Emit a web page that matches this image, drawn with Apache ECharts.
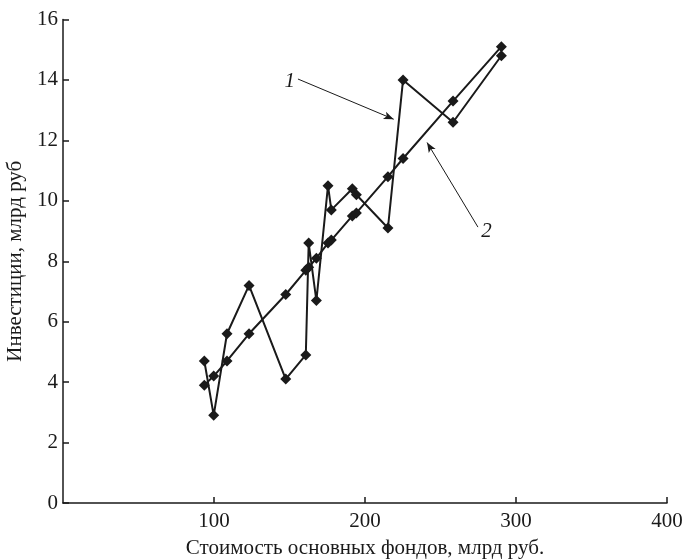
<!DOCTYPE html>
<html>
<head>
<meta charset="utf-8">
<script src="https://cdn.jsdelivr.net/npm/echarts@6/dist/echarts.min.js"></script>
<style>
  html, body { margin: 0; padding: 0; background: #fff; }
  #chart { width: 686px; height: 560px; }
</style>
</head>
<body>
<div id="chart"></div>
<script>
  // стоимость основных фондов (общая для обеих кривых)
  var funds = [93.6, 99.8, 108.6, 123.2, 147.5, 160.8, 162.7, 167.8, 175.5, 177.7, 191.6, 194.3, 215.2, 225.2, 258.3, 290.3];
  // 1 - фактические инвестиции
  var invest = [4.7, 2.9, 5.6, 7.2, 4.1, 4.9, 8.6, 6.7, 10.5, 9.7, 10.4, 10.2, 9.1, 14.0, 12.6, 14.8];
  // 2 - расчетные значения
  var fitted = [3.9, 4.2, 4.7, 5.6, 6.9, 7.7, 7.8, 8.1, 8.6, 8.7, 9.5, 9.6, 10.8, 11.4, 13.3, 15.1];

  var xTicks = [0, 100, 200, 300, 400];
  var yTicks = [0, 2, 4, 6, 8, 10, 12, 14, 16];

  // подписи кривых и стрелки к ним
  var note1 = { text: '1', at: [150.1, 13.95], from: [155.6, 14.03], to: [219.0, 12.7] };
  var note2 = { text: '2', at: [280.4, 8.98], from: [274.8, 9.13], to: [241.1, 11.93] };

  function pairs(xs, ys) {
    return xs.map(function (x, i) { return [x, ys[i]]; });
  }

  var ink = '#1a1a1a';
  var font = '"Liberation Serif", "DejaVu Serif", serif';

  function arrow(n) {
    return {
      silent: true,
      symbol: ['none', 'arrow'],
      symbolSize: [6, 10],
      lineStyle: { color: ink, width: 1, type: 'solid' },
      itemStyle: { color: ink },
      label: { show: false },
      emphasis: { disabled: true },
      data: [[{ coord: n.from }, { coord: n.to }]]
    };
  }
  function note(n) {
    return {
      silent: true,
      symbol: 'circle',
      symbolSize: 0,
      label: {
        show: true, position: 'inside', formatter: n.text,
        color: ink, fontFamily: font, fontSize: 21, fontStyle: 'italic'
      },
      data: [{ coord: n.at }]
    };
  }

  var myChart = echarts.init(document.getElementById('chart'));
  var option = {
    backgroundColor: '#fff',
    animation: false,
    grid: { left: 63, right: 19, top: 19.5, bottom: 57, outerBoundsMode: 'none', containLabel: false },
    xAxis: {
      type: 'value',
      min: xTicks[0],
      max: xTicks[xTicks.length - 1],
      interval: 100,
      name: 'Стоимость основных фондов, млрд руб.',
      nameLocation: 'middle',
      nameGap: 35,
      nameTextStyle: { color: ink, fontFamily: font, fontSize: 21 },
      axisLine: { show: true, lineStyle: { color: ink, width: 1.5 } },
      axisTick: { show: true, inside: true, length: 6, lineStyle: { color: ink, width: 1.5 } },
      axisLabel: {
        color: ink, fontFamily: font, fontSize: 21, margin: 8,
        showMinLabel: false
      },
      splitLine: { show: false }
    },
    yAxis: {
      type: 'value',
      min: yTicks[0],
      max: yTicks[yTicks.length - 1],
      interval: 2,
      name: 'Инвестиции, млрд руб',
      nameLocation: 'middle',
      nameGap: 36,
      nameTextStyle: { color: ink, fontFamily: font, fontSize: 21 },
      axisLine: { show: true, lineStyle: { color: ink, width: 1.5 } },
      axisTick: { show: true, inside: true, length: 6, lineStyle: { color: ink, width: 1.5 } },
      axisLabel: { color: ink, fontFamily: font, fontSize: 21, margin: 5 },
      splitLine: { show: false }
    },
    series: [
      {
        name: '1',
        type: 'line',
        data: pairs(funds, invest),
        symbol: 'diamond',
        symbolSize: 11,
        itemStyle: { color: ink },
        lineStyle: { color: ink, width: 2 },
        markLine: arrow(note1),
        markPoint: note(note1)
      },
      {
        name: '2',
        type: 'line',
        data: pairs(funds, fitted),
        symbol: 'diamond',
        symbolSize: 11,
        itemStyle: { color: ink },
        lineStyle: { color: ink, width: 2 },
        markLine: arrow(note2),
        markPoint: note(note2)
      }
    ]
  };
  myChart.setOption(option);
</script>
</body>
</html>
